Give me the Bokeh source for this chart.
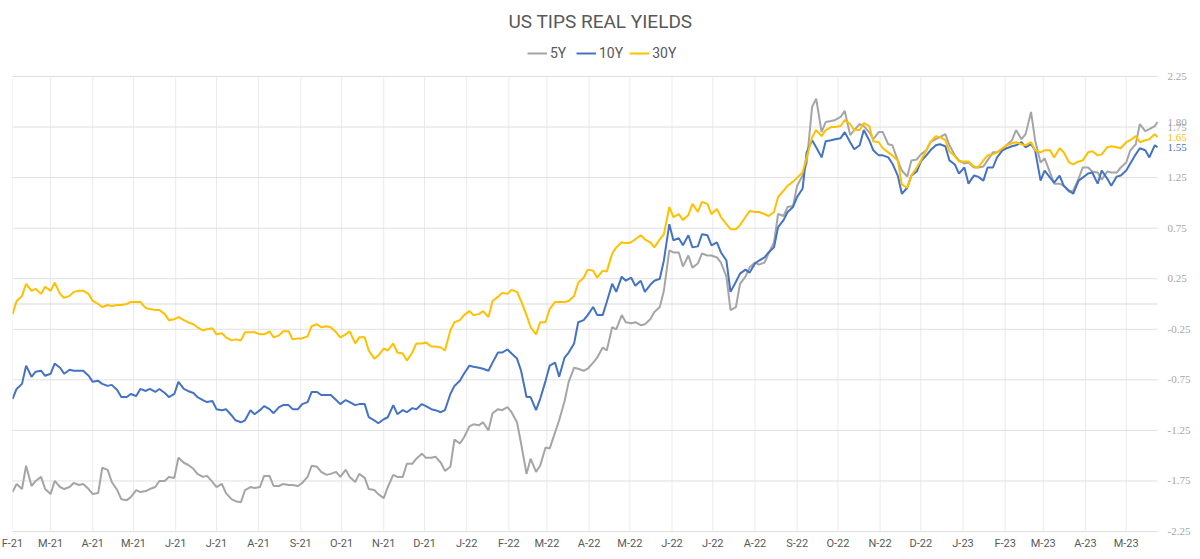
import pandas as pd
from bokeh.plotting import figure
from bokeh.layouts import column
from bokeh.models import (Range1d, FixedTicker, Legend, LegendItem, Label)
from bokeh.embed import file_html
from bokeh.resources import INLINE

# ---------------- data ----------------
# readings on Mondays and on Thursdays, plus the last observation
mon_dates = list(pd.date_range("2021-02-01", periods=121, freq="7D"))
thu_dates = list(pd.date_range("2021-02-04", periods=120, freq="7D"))
last_date = pd.Timestamp("2023-05-24")

y30_mon = [-0.10, 0.08, 0.13, 0.10, 0.13, 0.10, 0.08, 0.13, 0.10, 0.00,
           -0.01, -0.01, 0.00, 0.02, -0.04, -0.06, -0.10, -0.15, -0.16, -0.20,
           -0.26, -0.24, -0.29, -0.36, -0.36, -0.28, -0.30, -0.27, -0.31, -0.27,
           -0.34, -0.32, -0.20, -0.22, -0.28, -0.30, -0.39, -0.33, -0.54, -0.44,
           -0.39, -0.49, -0.48, -0.39, -0.42, -0.43, -0.26, -0.16, -0.07, -0.10,
           -0.13, 0.07, 0.10, 0.12, -0.11, -0.30, -0.18, 0.02, 0.02, 0.08,
           0.26, 0.33, 0.33, 0.50, 0.61, 0.61, 0.68, 0.61, 0.64, 0.96,
           0.89, 0.88, 0.91, 0.99, 0.94, 0.79, 0.74, 0.86, 0.91, 0.89,
           0.91, 1.12, 1.21, 1.30, 1.65, 1.66, 1.75, 1.76, 1.78, 1.72,
           1.76, 1.60, 1.50, 1.42, 1.15, 1.35, 1.52, 1.66, 1.62, 1.46,
           1.41, 1.36, 1.42, 1.48, 1.54, 1.59, 1.58, 1.60, 1.50, 1.52,
           1.54, 1.40, 1.41, 1.50, 1.47, 1.55, 1.55, 1.60, 1.66, 1.62,
           1.68]
y30_thu = [0.03, 0.20, 0.15, 0.17, 0.21, 0.06, 0.12, 0.13, 0.03, -0.03,
           -0.02, -0.01, 0.02, 0.02, -0.05, -0.06, -0.16, -0.13, -0.18, -0.23,
           -0.25, -0.30, -0.33, -0.35, -0.28, -0.28, -0.30, -0.33, -0.27, -0.35,
           -0.34, -0.22, -0.23, -0.23, -0.33, -0.27, -0.33, -0.46, -0.51, -0.46,
           -0.48, -0.56, -0.39, -0.38, -0.42, -0.46, -0.18, -0.11, -0.11, -0.07,
           0.03, 0.11, 0.14, 0.03, -0.23, -0.18, -0.05, 0.02, 0.03, 0.21,
           0.34, 0.26, 0.32, 0.56, 0.60, 0.64, 0.64, 0.56, 0.69, 0.86,
           0.83, 0.99, 1.01, 0.89, 0.86, 0.74, 0.78, 0.92, 0.91, 0.87,
           1.06, 1.17, 1.25, 1.45, 1.72, 1.72, 1.75, 1.82, 1.72, 1.79,
           1.61, 1.54, 1.47, 1.18, 1.27, 1.42, 1.60, 1.65, 1.51, 1.41,
           1.41, 1.35, 1.47, 1.50, 1.57, 1.60, 1.57, 1.52, 1.52, 1.45,
           1.50, 1.38, 1.42, 1.51, 1.48, 1.56, 1.54, 1.62, 1.60, 1.63]
y30_last = 1.65

y10_mon = [-0.94, -0.79, -0.72, -0.66, -0.69, -0.63, -0.65, -0.66, -0.71, -0.76,
           -0.81, -0.85, -0.92, -0.91, -0.86, -0.87, -0.88, -0.89, -0.84, -0.88,
           -0.95, -0.96, -1.05, -1.10, -1.17, -1.05, -1.05, -1.04, -1.02, -1.00,
           -1.04, -0.97, -0.87, -0.90, -0.95, -0.95, -1.00, -0.99, -1.15, -1.14,
           -1.00, -1.05, -1.03, -0.99, -1.04, -1.07, -0.89, -0.76, -0.61, -0.63,
           -0.66, -0.48, -0.45, -0.54, -0.92, -1.05, -0.76, -0.58, -0.53, -0.39,
           -0.16, -0.03, -0.11, 0.20, 0.27, 0.26, 0.23, 0.19, 0.25, 0.79,
           0.65, 0.68, 0.57, 0.68, 0.61, 0.43, 0.22, 0.34, 0.40, 0.46,
           0.56, 0.83, 0.96, 1.14, 1.62, 1.45, 1.62, 1.64, 1.60, 1.57,
           1.62, 1.47, 1.45, 1.27, 1.15, 1.31, 1.47, 1.57, 1.56, 1.38,
           1.35, 1.27, 1.22, 1.35, 1.52, 1.56, 1.60, 1.58, 1.22, 1.25,
           1.27, 1.12, 1.22, 1.29, 1.19, 1.24, 1.26, 1.32, 1.48, 1.52,
           1.57]
y10_thu = [-0.84, -0.61, -0.67, -0.71, -0.59, -0.69, -0.66, -0.66, -0.77, -0.79,
           -0.80, -0.92, -0.89, -0.84, -0.84, -0.84, -0.92, -0.77, -0.86, -0.92,
           -0.97, -1.04, -1.04, -1.15, -1.15, -1.09, -1.01, -1.08, -1.00, -1.04,
           -0.99, -0.87, -0.90, -0.90, -0.99, -0.97, -0.99, -1.12, -1.18, -1.12,
           -1.09, -1.07, -1.04, -1.01, -1.05, -1.05, -0.81, -0.69, -0.62, -0.64,
           -0.58, -0.48, -0.49, -0.66, -0.92, -0.94, -0.61, -0.72, -0.48, -0.18,
           -0.11, -0.11, 0.02, 0.12, 0.23, 0.18, 0.12, 0.23, 0.43, 0.63,
           0.58, 0.56, 0.69, 0.58, 0.51, 0.12, 0.30, 0.31, 0.43, 0.51,
           0.76, 0.91, 1.06, 1.50, 1.55, 1.61, 1.63, 1.70, 1.53, 1.72,
           1.52, 1.47, 1.39, 1.09, 1.27, 1.41, 1.52, 1.58, 1.42, 1.29,
           1.19, 1.26, 1.35, 1.45, 1.54, 1.57, 1.55, 1.52, 1.32, 1.20,
           1.17, 1.09, 1.25, 1.30, 1.32, 1.17, 1.27, 1.39, 1.54, 1.45]
y10_last = 1.55

y5_mon = [-1.86, -1.83, -1.80, -1.71, -1.88, -1.81, -1.81, -1.79, -1.83, -1.87,
          -1.64, -1.84, -1.94, -1.84, -1.85, -1.81, -1.75, -1.72, -1.57, -1.63,
          -1.71, -1.76, -1.78, -1.93, -1.96, -1.81, -1.81, -1.70, -1.80, -1.79,
          -1.80, -1.71, -1.61, -1.69, -1.66, -1.64, -1.76, -1.72, -1.84, -1.92,
          -1.69, -1.71, -1.58, -1.48, -1.52, -1.57, -1.61, -1.38, -1.21, -1.20,
          -1.25, -1.04, -1.02, -1.17, -1.68, -1.66, -1.42, -1.27, -0.96, -0.63,
          -0.66, -0.58, -0.43, -0.23, -0.11, -0.19, -0.21, -0.15, -0.03, 0.53,
          0.51, 0.48, 0.40, 0.48, 0.46, 0.27, -0.03, 0.27, 0.41, 0.41,
          0.61, 0.87, 0.97, 1.27, 1.95, 1.70, 1.81, 1.85, 1.67, 1.78,
          1.70, 1.70, 1.58, 1.42, 1.26, 1.43, 1.52, 1.63, 1.68, 1.47,
          1.39, 1.35, 1.36, 1.50, 1.53, 1.62, 1.63, 1.90, 1.40, 1.30,
          1.19, 1.11, 1.24, 1.35, 1.30, 1.31, 1.30, 1.40, 1.58, 1.71,
          1.76]
y5_thu = [-1.78, -1.60, -1.75, -1.83, -1.75, -1.83, -1.77, -1.78, -1.88, -1.62,
          -1.76, -1.93, -1.91, -1.86, -1.83, -1.75, -1.71, -1.52, -1.59, -1.68,
          -1.70, -1.81, -1.87, -1.95, -1.84, -1.82, -1.70, -1.80, -1.78, -1.79,
          -1.77, -1.60, -1.66, -1.68, -1.71, -1.71, -1.68, -1.83, -1.88, -1.81,
          -1.71, -1.58, -1.53, -1.52, -1.51, -1.65, -1.34, -1.32, -1.19, -1.17,
          -1.08, -1.05, -1.07, -1.38, -1.53, -1.60, -1.43, -1.15, -0.77, -0.64,
          -0.64, -0.53, -0.46, -0.25, -0.18, -0.18, -0.20, -0.08, 0.13, 0.51,
          0.37, 0.36, 0.50, 0.48, 0.41, -0.06, 0.20, 0.36, 0.39, 0.50,
          0.89, 0.96, 1.17, 1.39, 2.03, 1.80, 1.82, 1.91, 1.72, 1.76,
          1.63, 1.70, 1.57, 1.32, 1.42, 1.48, 1.60, 1.65, 1.57, 1.42,
          1.40, 1.35, 1.42, 1.50, 1.57, 1.72, 1.68, 1.62, 1.44, 1.19,
          1.17, 1.12, 1.35, 1.31, 1.23, 1.30, 1.35, 1.52, 1.78, 1.73]
y5_last = 1.80

month_starts = list(pd.date_range("2021-02-01", "2023-05-01", freq="MS"))
month_labels = ["F-21", "M-21", "A-21", "M-21", "J-21", "J-21", "A-21", "S-21", "O-21", "N-21", "D-21",
                "J-22", "F-22", "M-22", "A-22", "M-22", "J-22", "J-22", "A-22", "S-22", "O-22", "N-22", "D-22",
                "J-23", "F-23", "M-23", "A-23", "M-23"]
y_ticks = [-2.25, -1.75, -1.25, -0.75, -0.25, 0.25, 0.75, 1.25, 1.75, 2.25]
zero_line = [0.0]

title_text = "US TIPS REAL YIELDS"
series_names = ["5Y", "10Y", "30Y"]
series_colors = ["#A5A5A5", "#4472C4", "#FFC000"]


def build(mon, thu, last):
    pts = list(zip(mon_dates, mon)) + list(zip(thu_dates, thu)) + [(last_date, last)]
    pts.sort(key=lambda t: t[0])
    return [d for d, _ in pts], [v for _, v in pts]


dates, y5 = build(y5_mon, y5_thu, y5_last)
_, y10 = build(y10_mon, y10_thu, y10_last)
_, y30 = build(y30_mon, y30_thu, y30_last)
series_values = [y5, y10, y30]

# ---------------- layout constants ----------------
FONT = "Roboto"
W, H = 1200, 559
HEAD_H = 70
BL = 12             # left border
PLOT_R = 1157       # right edge of the data area
PX_TOP, PX_BOT = 76, 531   # pixel rows of the top / bottom of the value scale
FRAME_BOT = 538


def ms(ts):
    return int((pd.Timestamp(ts) - pd.Timestamp("1970-01-01")).total_seconds() * 1000)


x_ms = [ms(d) for d in dates]
tick_ms = [ms(d) for d in month_starts]
x0, x1 = x_ms[0], x_ms[-1]
x_end = x1 + (x1 - x0) * (W - PLOT_R) / (PLOT_R - BL)
y_lo, y_hi = y_ticks[0], y_ticks[-1]
per_px = (y_hi - y_lo) / (PX_BOT - PX_TOP)
y_start = y_lo - (FRAME_BOT - PX_BOT) * per_px
y_stop = y_hi + (PX_TOP - HEAD_H) * per_px

# ---------------- header: title + legend ----------------
head = figure(width=W, height=HEAD_H, x_range=Range1d(BL, W), y_range=Range1d(0, HEAD_H),
              x_axis_location=None, y_axis_location=None, output_backend="svg",
              toolbar_location=None, min_border_left=BL, min_border_right=0,
              min_border_top=0, min_border_bottom=0)
head.outline_line_color = None
head.xgrid.visible = False
head.ygrid.visible = False
head.add_layout(Label(x=W / 2, y=HEAD_H - 21, text=title_text, text_align="center",
                      text_baseline="middle", text_font=FONT, text_font_size="19px",
                      text_color="#595959"))
head_items = []
for name, col, vals in zip(series_names, series_colors, series_values):
    r = head.line(x=x_ms, y=vals, line_color=col, line_width=2)   # off-range: legend swatch only
    head_items.append(LegendItem(label=name, renderers=[r]))
legend = Legend(items=head_items, orientation="horizontal", location=(527 - BL, 9),
                label_text_font=FONT, label_text_font_size="14px", label_text_color="#595959",
                glyph_width=20, glyph_height=14, label_standoff=3, spacing=6,
                border_line_color=None, background_fill_alpha=0, padding=0, margin=0)
head.add_layout(legend)

# ---------------- main chart ----------------
p = figure(width=W, height=H - HEAD_H, x_axis_type="datetime", y_axis_location=None,
           x_range=Range1d(x0, x_end), y_range=Range1d(y_start, y_stop),
           output_backend="svg", toolbar_location=None,
           min_border_left=BL, min_border_right=0, min_border_top=0,
           min_border_bottom=H - FRAME_BOT)
p.outline_line_color = None

p.xaxis.ticker = FixedTicker(ticks=tick_ms)
p.xaxis.major_label_overrides = {t: lab for t, lab in zip(tick_ms, month_labels)}
p.xaxis.major_label_text_font = FONT
p.xaxis.major_label_text_font_size = "11px"
p.xaxis.major_label_text_color = "#595959"
p.xaxis.axis_line_color = None
p.xaxis.major_tick_line_color = None
p.xaxis.minor_tick_line_color = None
p.xaxis.major_tick_out = 0
p.xaxis.major_label_standoff = -2

p.xgrid.visible = False
p.ygrid.visible = False

# grid lines limited to the data area
p.segment(x0=tick_ms, x1=tick_ms, y0=[y_lo] * len(tick_ms), y1=[y_hi] * len(tick_ms),
          line_color="#EBEBEB", line_width=1)
p.segment(x0=[x0] * len(y_ticks), x1=[x1] * len(y_ticks), y0=y_ticks, y1=y_ticks,
          line_color="#E0E0E0", line_width=1)
p.segment(x0=[x0], x1=[x1], y0=zero_line, y1=zero_line, line_color="#D9D9D9", line_width=1)

for col, vals in zip(series_colors, series_values):
    p.line(x_ms, vals, line_color=col, line_width=2)

# right-hand value scale
p.text(x=[x1] * len(y_ticks), y=y_ticks, text=[f"{v:.2f}" for v in y_ticks],
       x_offset=10, text_align="left", text_baseline="middle",
       text_font=FONT, text_font_size="11px", text_color="#A6A6A6")

# end-value labels
for col, vals in zip(series_colors, series_values):
    p.text(x=[x1], y=[vals[-1]], text=[f"{vals[-1]:.2f}"], x_offset=10,
           text_align="left", text_baseline="middle",
           text_font=FONT, text_font_size="11px", text_color=col)

open("out.html", "w").write(file_html(column(head, p, spacing=0), INLINE))
